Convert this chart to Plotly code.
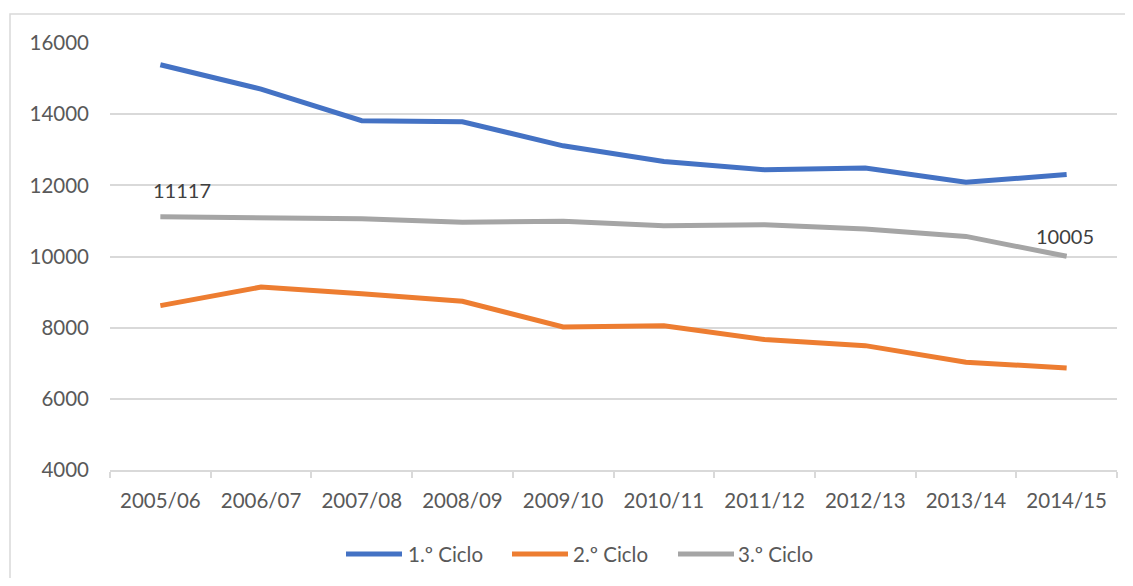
import plotly.graph_objects as go

years = ["2005/06", "2006/07", "2007/08", "2008/09", "2009/10",
         "2010/11", "2011/12", "2012/13", "2013/14", "2014/15"]
ciclo1 = [15390, 14705, 13815, 13785, 13110, 12670, 12440, 12485, 12085, 12305]
ciclo2 = [8620, 9140, 8955, 8740, 8020, 8055, 7665, 7495, 7030, 6865]
ciclo3 = [11117, 11095, 11060, 10965, 10990, 10865, 10895, 10775, 10565, 10005]
labelled3 = [0, 9]  # indices of the 3.º Ciclo points that carry a data label

names = ["1.º Ciclo", "2.º Ciclo", "3.º Ciclo"]
colors = ["#4472C4", "#ED7D31", "#A5A5A5"]
FONT = "Lato"
TXT = "#595959"

# page-pixel geometry (body margin of 8px is accounted for)
PL, PR, PT, PB = 110, 1117, 43, 470
W, H = 1133 - 16, 586 - 16


def px(x):
    return (x - PL) / (PR - PL)


def py(y):
    return (PB - y) / (PB - PT)


fig = go.Figure()
for name, vals, col in zip(names, [ciclo1, ciclo2, ciclo3], colors):
    fig.add_trace(go.Scatter(x=years, y=vals, name=name, mode="lines",
                             line=dict(color=col, width=5), showlegend=False))

annotations = []
shifts = {0: (22, 27), 9: (-2, 20)}
for i in labelled3:
    dx, dy = shifts[i]
    annotations.append(dict(x=years[i], y=ciclo3[i], xref="x", yref="y",
                            text=str(ciclo3[i]), showarrow=False,
                            xshift=dx, yshift=dy, yanchor="middle",
                            font=dict(family=FONT, size=20, color="#404040")))

# custom legend (long line samples as in the reference)
leg_lines = [(346, 402), (512, 568), (678, 734)]
leg_text_x = [406, 571, 736]
leg_y = 554
shapes = [dict(type="rect", xref="paper", yref="paper",
               x0=px(10), y0=-0.6, x1=1.2, y1=py(14),
               line=dict(color="#D9D9D9", width=1.5), layer="below")]
for (x0, x1), tx, name, col in zip(leg_lines, leg_text_x, names, colors):
    shapes.append(dict(type="line", xref="paper", yref="paper",
                       x0=px(x0), x1=px(x1), y0=py(leg_y), y1=py(leg_y),
                       line=dict(color=col, width=5)))
    annotations.append(dict(x=px(tx), y=py(leg_y), xref="paper", yref="paper",
                            text=name, showarrow=False, xanchor="left",
                            yanchor="middle",
                            font=dict(family=FONT, size=20.5, color=TXT)))

fig.update_layout(
    width=W, height=H,
    margin=dict(l=PL - 8, r=W + 8 - PR, t=PT - 8, b=H + 8 - PB),
    paper_bgcolor="white", plot_bgcolor="white",
    font=dict(family=FONT, size=20, color=TXT),
    showlegend=False,
    shapes=shapes,
    annotations=annotations,
)
fig.update_xaxes(type="category", showgrid=False, showline=True,
                 linecolor="#D9D9D9", linewidth=1.5,
                 ticks="outside", tickson="boundaries", ticklen=6,
                 tickcolor="#D9D9D9", tickwidth=1.5, ticklabelstandoff=12,
                 tickfont=dict(family=FONT, size=20.5, color=TXT),
                 range=[-0.5, 9.5])
fig.update_yaxes(range=[4000, 16000], dtick=2000, tickformat="d", showgrid=True,
                 gridcolor="#D9D9D9", gridwidth=1.5, zeroline=False,
                 showline=False, ticks="", ticklabelstandoff=20,
                 tickfont=dict(family=FONT, size=20.5, color=TXT))

fig.write_html("out.html")
